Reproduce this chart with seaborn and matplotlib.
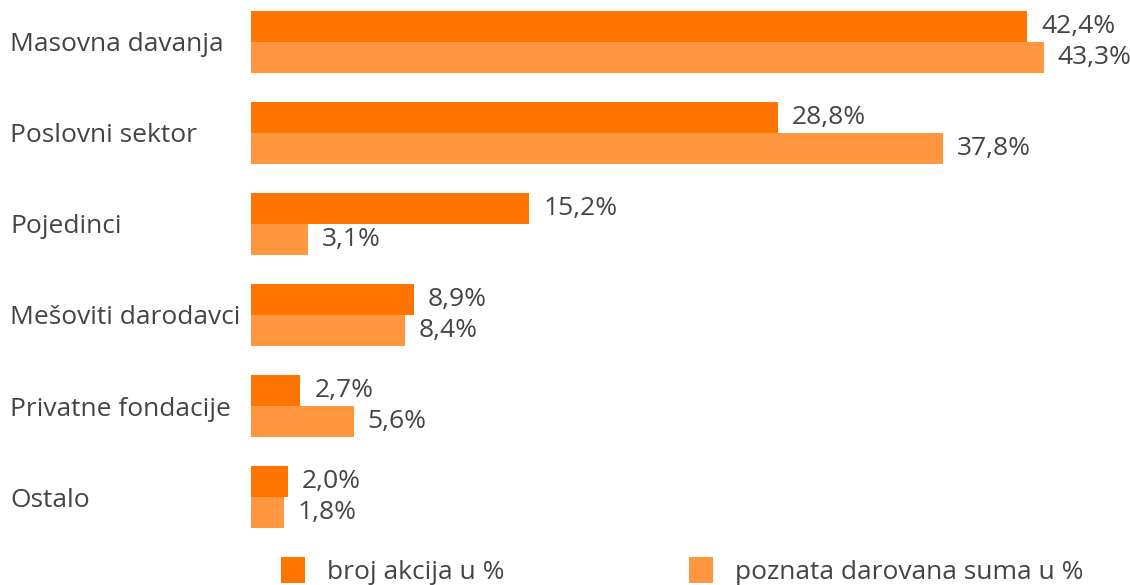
import numpy as np
import pandas as pd
import matplotlib
matplotlib.use('Agg')
import matplotlib.pyplot as plt
import seaborn as sns

categories = ['Masovna davanja', 'Poslovni sektor', 'Pojedinci',
              'Mešoviti darodavci', 'Privatne fondacije', 'Ostalo']
broj_akcija = [42.4, 28.8, 15.2, 8.9, 2.7, 2.0]
poznata_suma = [43.3, 37.8, 3.1, 8.4, 5.6, 1.8]
series_names = ['broj akcija u %', 'poznata darovana suma u %']
colors = ['#FF7500', '#FF9640']

df = pd.DataFrame({'kategorija': categories * 2,
                   'vrednost': broj_akcija + poznata_suma,
                   'serija': [series_names[0]] * 6 + [series_names[1]] * 6})

sns.set_theme(style='white')
plt.rcParams['font.family'] = ['Open Sans', 'DejaVu Sans']
text_color = '#444444'
fs = 19

fig = plt.figure(figsize=(11.3, 5.85), dpi=100)
ax = fig.add_axes([251 / 1130, 0, 0.81, 1])

sns.barplot(data=df, y='kategorija', x='vrednost', hue='serija',
            palette=colors, orient='h', width=0.68, gap=0,
            saturation=1, linewidth=0, ax=ax, legend=True)

for cont in ax.containers:
    labels = [f'{v:.1f}%'.replace('.', ',') for v in cont.datavalues]
    ax.bar_label(cont, labels=labels, padding=10, fontsize=fs, color=text_color)

ax.set_xlim(0, 50)
ax.set_ylim(5.967, -0.4615)
ax.set_xlabel('')
ax.set_ylabel('')
ax.set_xticks([])
# pad is in points: 241 px from label start to axis
ax.tick_params(axis='y', length=0, pad=241 * 0.72, labelsize=fs, labelcolor=text_color)
for lab in ax.get_yticklabels():
    lab.set_horizontalalignment('left')
sns.despine(ax=ax, left=True, bottom=True)

ax.get_legend().remove()
handles, labs = ax.get_legend_handles_labels()
fig.legend(handles, labs, loc='center left', bbox_to_anchor=(281 / 1130, 14 / 585),
           ncol=2, frameon=False, fontsize=fs, labelcolor=text_color, borderpad=0,
           borderaxespad=0, handlelength=0.9, handleheight=1.1, columnspacing=7.0,
           handletextpad=0.83)

fig.savefig('out.png', dpi=100)
